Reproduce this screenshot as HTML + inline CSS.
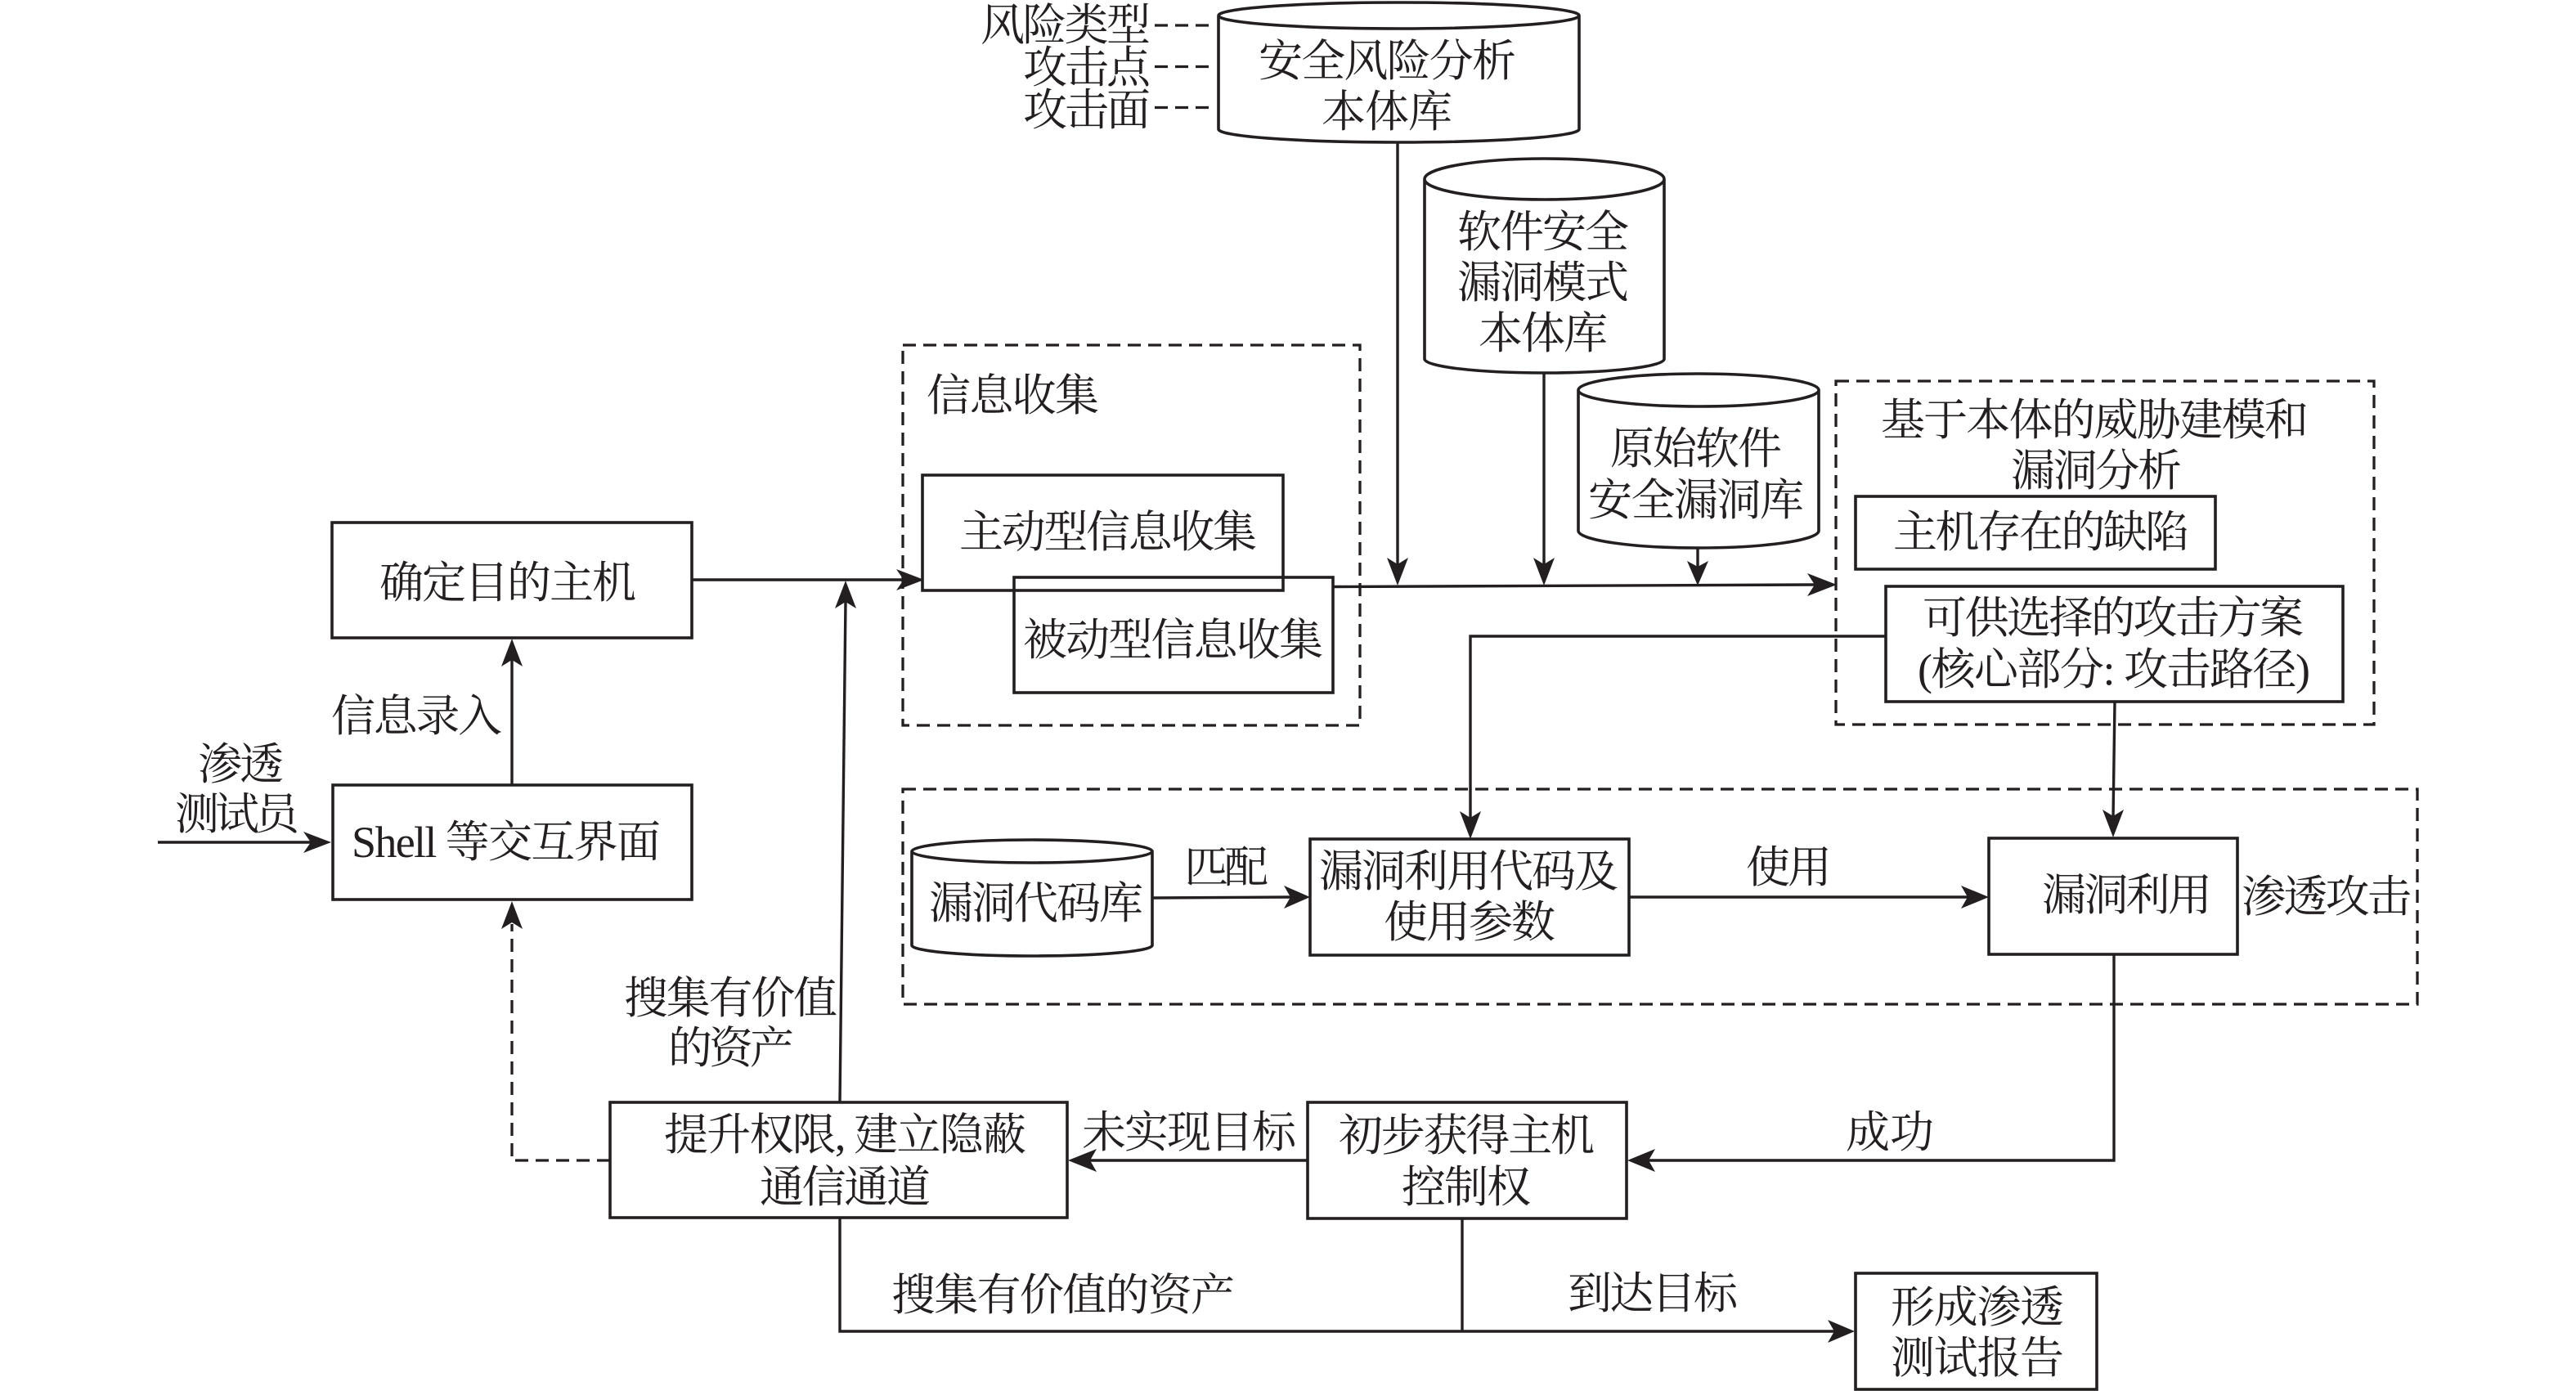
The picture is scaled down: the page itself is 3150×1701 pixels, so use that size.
<!DOCTYPE html>
<html><head><meta charset="utf-8"><style>
html,body{margin:0;padding:0;background:#fff;width:3150px;height:1701px;overflow:hidden}
svg{display:block}
text{font-family:"Liberation Serif","Noto Serif CJK SC",serif;font-size:54px;fill:#231f20}
.b{fill:none;stroke:#231f20;stroke-width:3.6}
.d{fill:none;stroke:#231f20;stroke-width:3.3;stroke-dasharray:16 9}
.l{fill:none;stroke:#231f20;stroke-width:3.4}
.a{fill:#231f20;stroke:none}
</style></head><body>
<svg xmlns="http://www.w3.org/2000/svg" width="3150" height="1701" viewBox="0 0 3150 1701">
<!-- dashed groups -->
<rect class="d" x="1104" y="422" width="559" height="465"/>
<rect class="d" x="2245" y="466" width="658" height="420"/>
<rect class="d" x="1104" y="965" width="1852" height="263"/>
<!-- dashes top-left -->
<path class="d" d="M1412 31H1479M1412 81.5H1479M1412 131.5H1479"/>
<!-- cylinders -->
<path class="b" d="M1490 19A220.500 16 0 0 1 1931 19A220.500 16 0 0 1 1490 19V158A220.500 16 0 0 0 1931 158V19"/>
<path class="b" d="M1742 219A146.500 25 0 0 1 2035 219A146.500 25 0 0 1 1742 219V439A146.500 17 0 0 0 2035 439V219"/>
<path class="b" d="M1930 477A147 20 0 0 1 2224 477A147 20 0 0 1 1930 477V649A147 21 0 0 0 2224 649V477"/>
<path class="b" d="M1115 1041A147 14 0 0 1 1409 1041A147 14 0 0 1 1115 1041V1156A147 13 0 0 0 1409 1156V1041"/>
<!-- boxes -->
<rect class="b" x="406" y="639" width="440" height="141"/>
<rect class="b" x="407" y="960" width="439" height="140"/>
<rect class="b" x="1128" y="581" width="441" height="141"/>
<rect class="b" x="1240" y="706" width="390" height="141"/>
<rect class="b" x="2269" y="607" width="440" height="89"/>
<rect class="b" x="2306" y="717" width="559" height="141"/>
<rect class="b" x="1602" y="1026" width="390" height="142"/>
<rect class="b" x="2432" y="1025" width="304" height="142"/>
<rect class="b" x="746" y="1348" width="559" height="141"/>
<rect class="b" x="1599" y="1348" width="390" height="142"/>
<rect class="b" x="2269" y="1557" width="295" height="142"/>
<!-- connectors -->
<path class="l" d="M1709 174V690"/>
<path class="l" d="M1888 456V690"/>
<path class="l" d="M2076 670V695"/>
<path class="l" d="M1630 717.500L2220 715"/>
<path class="l" d="M846 709H1105"/>
<path class="l" d="M1027 1348L1034 735"/>
<path class="l" d="M626 960V790"/>
<path class="l" d="M193 1030H380"/>
<path class="d" d="M746 1419H626V1130"/>
<path class="l" d="M1027 1489V1628H2245"/>
<path class="l" d="M1788 1490V1628"/>
<path class="l" d="M1409 1098L1580 1097"/>
<path class="l" d="M1992 1097H2408"/>
<path class="l" d="M2306 778H1798V1000"/>
<path class="l" d="M2586 858L2584 1000"/>
<path class="l" d="M2585 1167V1419H2015"/>
<path class="l" d="M1599 1419H1332"/>
<!-- arrowheads -->
<polygon class="a" points="1709,716 1696,682 1709,690 1722,682"/>
<polygon class="a" points="1888,716 1875,682 1888,690 1901,682"/>
<polygon class="a" points="2076,716 2063,686 2076,693 2089,686"/>
<polygon class="a" points="2246,715 2210,701 2219,715 2210,729"/>
<polygon class="a" points="1130,709 1096,696 1105,709 1096,722"/>
<polygon class="a" points="1034,710 1021,744 1034,736 1047,744"/>
<polygon class="a" points="626,781 613,815 626,807 639,815"/>
<polygon class="a" points="405,1030 371,1017 380,1030 371,1043"/>
<polygon class="a" points="626,1102 613,1136 626,1128 639,1136"/>
<polygon class="a" points="2268,1628 2235,1614 2243,1628 2235,1642"/>
<polygon class="a" points="1602,1097 1570,1083 1578,1097 1570,1111"/>
<polygon class="a" points="2432,1097 2398,1083 2406,1097 2398,1111"/>
<polygon class="a" points="1798,1026 1785,992 1798,1000 1811,992"/>
<polygon class="a" points="2584,1024 2571,990 2584,998 2597,990"/>
<polygon class="a" points="1990,1419 2024,1405 2016,1419 2024,1433"/>
<polygon class="a" points="1306,1419 1341,1405 1333,1419 1341,1433"/>
<!-- text -->
<text x="1199" y="49" textLength="208">风险类型</text>
<text x="1251" y="101" textLength="156">攻击点</text>
<text x="1251" y="153" textLength="156">攻击面</text>
<text x="1539" y="93" textLength="315">安全风险分析</text>
<text x="1616" y="155" textLength="160">本体库</text>
<text x="1782" y="302" textLength="210">软件安全</text>
<text x="1782" y="364" textLength="210">漏洞模式</text>
<text x="1808" y="426" textLength="158">本体库</text>
<text x="1969" y="567" textLength="210">原始软件</text>
<text x="1942" y="630" textLength="264">安全漏洞库</text>
<text x="1133" y="502" textLength="211">信息收集</text>
<text x="1173" y="669" textLength="364">主动型信息收集</text>
<text x="1251" y="801" textLength="367">被动型信息收集</text>
<text x="464" y="731" textLength="314">确定目的主机</text>
<text x="430" y="1048" textLength="378">Shell 等交互界面</text>
<text x="405" y="894" textLength="209">信息录入</text>
<text x="242" y="953" textLength="105">渗透</text>
<text x="214" y="1014" textLength="152">测试员</text>
<text x="2300" y="532" textLength="523">基于本体的威胁建模和</text>
<text x="2459" y="594" textLength="209">漏洞分析</text>
<text x="2315" y="669" textLength="362">主机存在的缺陷</text>
<text x="2351" y="774" textLength="466">可供选择的攻击方案</text>
<text x="2345" y="837" textLength="480">(核心部分: 攻击路径)</text>
<text x="1136" y="1123" textLength="262">漏洞代码库</text>
<text x="1448" y="1079" textLength="103">匹配</text>
<text x="1613" y="1084" textLength="366">漏洞利用代码及</text>
<text x="1692" y="1146" textLength="210">使用参数</text>
<text x="2135" y="1079" textLength="105">使用</text>
<text x="2497" y="1113" textLength="208">漏洞利用</text>
<text x="2741" y="1115" textLength="208">渗透攻击</text>
<text x="763" y="1239" textLength="261">搜集有价值</text>
<text x="817" y="1300" textLength="154">的资产</text>
<text x="812" y="1406" textLength="443">提升权限, 建立隐蔽</text>
<text x="929" y="1470" textLength="209">通信通道</text>
<text x="1323" y="1403" textLength="262">未实现目标</text>
<text x="1637" y="1407" textLength="313">初步获得主机</text>
<text x="1714" y="1470" textLength="158">控制权</text>
<text x="2257" y="1403" textLength="108">成功</text>
<text x="1090" y="1602" textLength="420">搜集有价值的资产</text>
<text x="1917" y="1600" textLength="208">到达目标</text>
<text x="2312" y="1617" textLength="212">形成渗透</text>
<text x="2312" y="1679" textLength="212">测试报告</text>
</svg>
</body></html>
